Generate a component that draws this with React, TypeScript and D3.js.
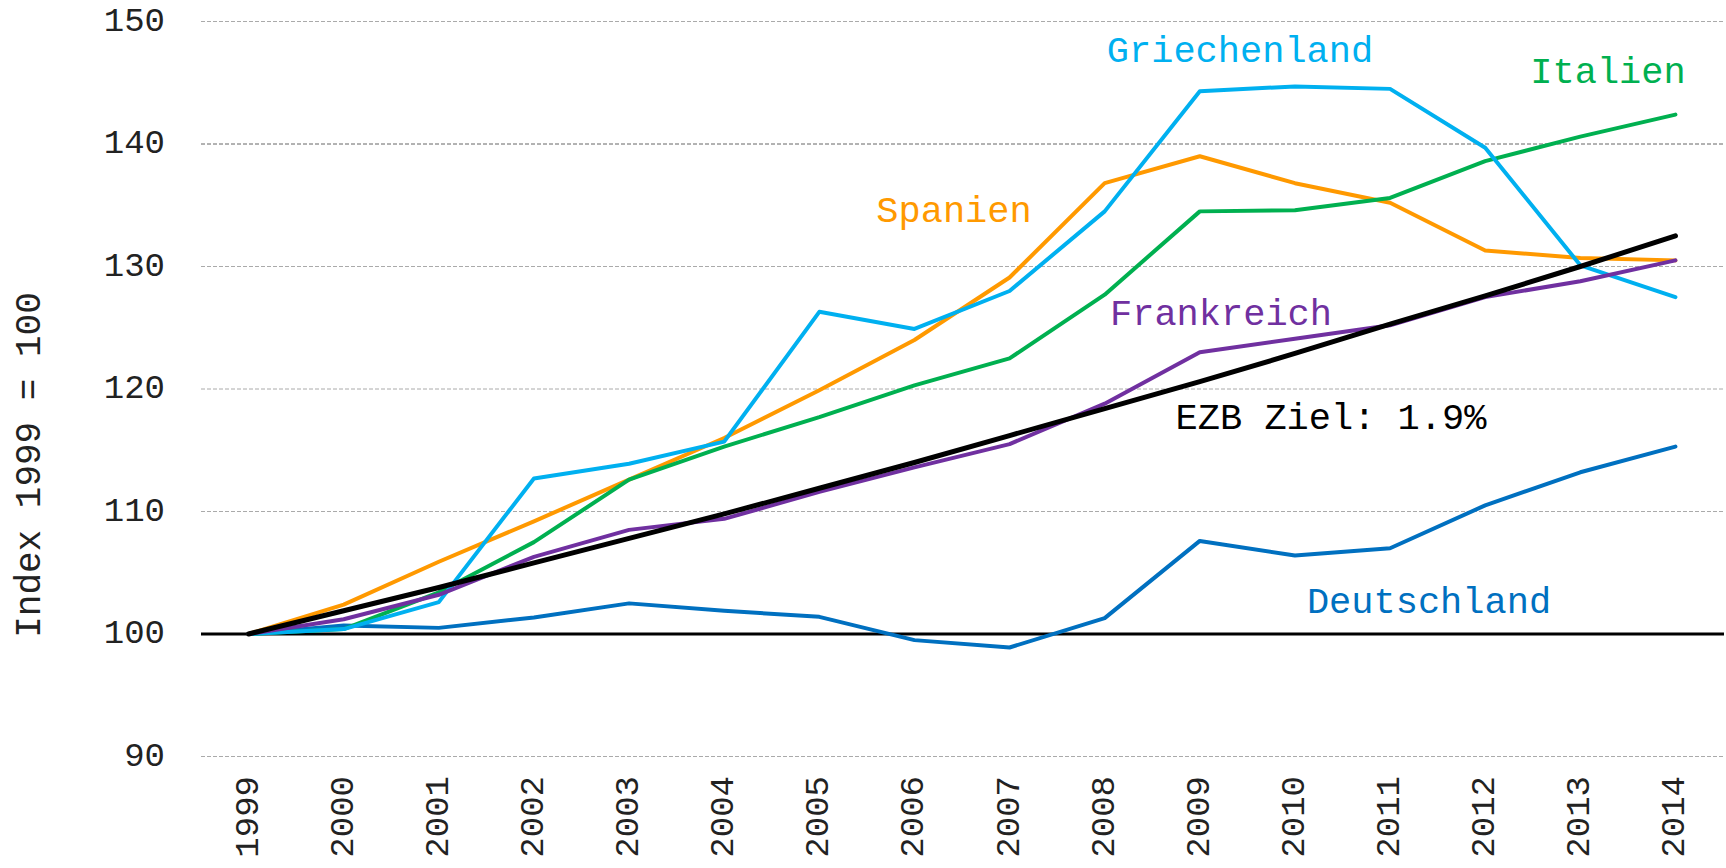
import React from "react";
import * as d3 from "d3";

const years = ["1999","2000","2001","2002","2003","2004","2005","2006","2007","2008","2009","2010","2011","2012","2013","2014"];
const yTicks = [90, 100, 110, 120, 130, 140, 150];

const deutschland = [100, 100.7, 100.5, 101.35, 102.5, 101.9, 101.4, 99.5, 98.9, 101.3, 107.6, 106.4, 107.0, 110.5, 113.2, 115.3];
const griechenland = [100, 100.4, 102.6, 112.7, 113.9, 115.7, 126.3, 124.9, 128.0, 134.5, 144.3, 144.7, 144.5, 139.7, 130.1, 127.5];
const spanien = [100, 102.4, 105.9, 109.2, 112.6, 116.0, 119.9, 124.0, 129.1, 136.8, 139.0, 136.8, 135.2, 131.3, 130.7, 130.5];
const italien = [100, 100.4, 103.4, 107.5, 112.6, 115.3, 117.7, 120.3, 122.5, 127.7, 134.5, 134.6, 135.6, 138.6, 140.6, 142.4];
const frankreich = [100, 101.2, 103.2, 106.3, 108.5, 109.4, 111.6, 113.6, 115.5, 118.8, 123.0, 124.1, 125.2, 127.5, 128.8, 130.5];
const ezbZiel = [100, 101.9, 103.8, 105.8, 107.8, 109.8, 111.9, 114.0, 116.2, 118.4, 120.6, 122.9, 125.3, 127.6, 130.0, 132.5];

const seriesNames = ["Deutschland", "Griechenland", "Spanien", "Italien", "Frankreich", "EZB Ziel: 1.9%"];
const seriesValues = [deutschland, griechenland, spanien, italien, frankreich, ezbZiel];
const seriesColors = ["#0070C0", "#00B0F0", "#FF9900", "#00B050", "#7030A0", "#000000"];
const labelPos: [number, number][] = [[1429, 603], [1240, 52], [954, 212], [1608, 73], [1221, 315], [1331, 419]];
const drawOrder = [0, 2, 3, 1, 4, 5];

const W = 1726, H = 868;
const FONT = "'Liberation Mono', 'Courier New', monospace";

export default function App() {
  const x = d3.scaleBand<string>().domain(years).range([201, 1723]).paddingInner(0).paddingOuter(0);
  const y = d3.scaleLinear().domain([90, 150]).range([756.5, 21.5]);
  const cx = (yr: string) => (x(yr) as number) + x.bandwidth() / 2;
  const line = d3.line<number>().x((_, i) => cx(years[i])).y((v) => y(v));

  return (
    <svg width={W} height={H} style={{ position: "absolute", left: 0, top: 0, background: "#fff" }}>
      <rect x={0} y={0} width={W} height={H} fill="#fff" />
      {yTicks.map((t) => (
        <g key={t}>
          {t !== 100 && (
            <line x1={201} x2={1724} y1={y(t)} y2={y(t)} stroke={t === 140 ? "#666" : "#aaa"} strokeWidth={1} strokeDasharray="4,2" />
          )}
          <text x={165} y={y(t)} textAnchor="end" dominantBaseline="central" fontFamily={FONT} fontSize={34} fill="#222">{t}</text>
        </g>
      ))}
      <line x1={201} x2={1724} y1={y(100)} y2={y(100)} stroke="#000" strokeWidth={3.2} />
      {years.map((yr) => (
        <text key={yr} transform={`translate(${cx(yr)},776) rotate(-90)`} textAnchor="end" dominantBaseline="central" fontFamily={FONT} fontSize={34} fill="#222">{yr}</text>
      ))}
      <text transform="translate(30,465) rotate(-90)" textAnchor="middle" dominantBaseline="central" fontFamily={FONT} fontSize={36} fill="#222">Index 1999 = 100</text>
      {drawOrder.map((i) => (
        <path key={seriesNames[i]} d={line(seriesValues[i]) || ""} fill="none" stroke={seriesColors[i]} strokeWidth={i === 5 ? 5 : 4} strokeLinejoin="round" strokeLinecap="round" />
      ))}
      {seriesNames.map((n, i) => (
        <text key={n} x={labelPos[i][0]} y={labelPos[i][1]} textAnchor="middle" dominantBaseline="central" fontFamily={FONT} fontSize={37} fill={seriesColors[i]}>{n}</text>
      ))}
    </svg>
  );
}
